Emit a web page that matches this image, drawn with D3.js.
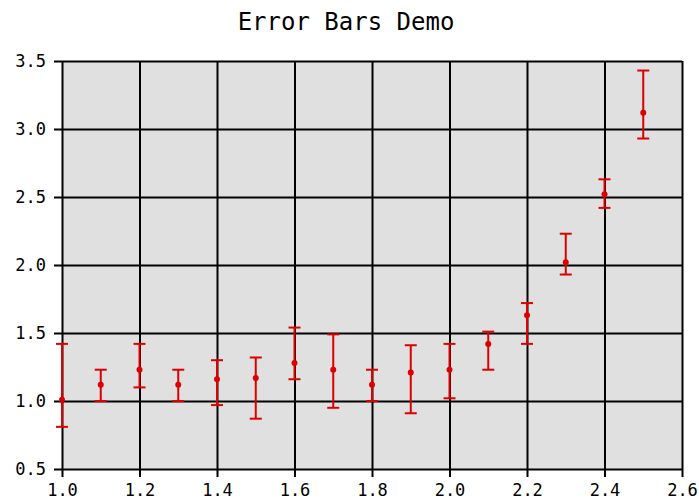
<!DOCTYPE html>
<html>
<head>
<meta charset="utf-8">
<script src="https://cdn.jsdelivr.net/npm/d3@7"></script>
<style>
  body { margin: 0; background: #fff; }
  text { font-family: "DejaVu Sans Mono", monospace; }
</style>
</head>
<body>
<script>
// data
var xs    = [1.0, 1.1, 1.2, 1.3, 1.4, 1.5, 1.6, 1.7, 1.8, 1.9, 2.0, 2.1, 2.2, 2.3, 2.4, 2.5];
var ys    = [1.01, 1.12, 1.23, 1.12, 1.16, 1.17, 1.28, 1.23, 1.12, 1.21, 1.23, 1.42, 1.63, 2.02, 2.52, 3.12];
var yHigh = [1.42, 1.23, 1.42, 1.23, 1.30, 1.32, 1.54, 1.49, 1.23, 1.41, 1.42, 1.51, 1.72, 2.23, 2.63, 3.43];
var yLow  = [0.81, 1.00, 1.10, 1.00, 0.97, 0.87, 1.16, 0.95, 1.00, 0.91, 1.02, 1.23, 1.42, 1.93, 2.42, 2.93];
var xTicks = [1.0, 1.2, 1.4, 1.6, 1.8, 2.0, 2.2, 2.4, 2.6];
var yTicks = [0.5, 1.0, 1.5, 2.0, 2.5, 3.0, 3.5];

var width = 699;
var height = 502;

var margin = {
    top: 61,
    bottom: 33,
    left: 62,
    right: 17,
};

var svg = d3.select("body")
    .append("svg")
    .attr("width", width)
    .attr("height", height);

var x = d3.scaleLinear().domain([1.0, 2.6]).range([margin.left, width - margin.right]);
var y = d3.scaleLinear().domain([0.5, 3.5]).range([height - margin.bottom, margin.top]);

// plot background
svg.append("rect")
    .attr("x", x(1.0))
    .attr("y", y(3.5))
    .attr("width", x(2.6) - x(1.0))
    .attr("height", y(0.5) - y(3.5))
    .attr("fill", "#e0e0e0");

// grid
svg.append("g")
    .attr("transform", "translate(0," + y(0.5) + ")")
    .call(d3.axisBottom(x).tickValues(xTicks).tickFormat(d3.format(".1f"))
        .tickSize(-(y(0.5) - y(3.5))).tickSizeOuter(0))
    .call(function(g) {
        g.select(".domain").remove();
        g.selectAll(".tick line").attr("stroke", "#000").attr("stroke-width", 2).attr("y1", 8);
        g.selectAll(".tick text").attr("y", 15).attr("font-size", "17px").attr("fill", "#000")
            .attr("font-family", "DejaVu Sans Mono, monospace");
    });

svg.append("g")
    .attr("transform", "translate(" + x(1.0) + ",0)")
    .call(d3.axisLeft(y).tickValues(yTicks).tickFormat(d3.format(".1f"))
        .tickSize(-(x(2.6) - x(1.0))).tickSizeOuter(0))
    .call(function(g) {
        g.select(".domain").remove();
        g.selectAll(".tick line").attr("stroke", "#000").attr("stroke-width", 2).attr("x1", -8);
        g.selectAll(".tick text").attr("x", -16).attr("dy", "0.35em").attr("font-size", "17px").attr("fill", "#000")
            .attr("font-family", "DejaVu Sans Mono, monospace");
    });

// error bars
var bars = svg.append("g")
    .selectAll("g")
    .data(xs)
    .enter().append("g")
    .attr("stroke", "#dd0000")
    .attr("stroke-width", 2);

bars.append("line")
    .attr("x1", function(d) { return x(d); })
    .attr("x2", function(d) { return x(d); })
    .attr("y1", function(d, i) { return y(yHigh[i]); })
    .attr("y2", function(d, i) { return y(yLow[i]); });

bars.append("line")
    .attr("x1", function(d) { return x(d) - 6; })
    .attr("x2", function(d) { return x(d) + 6; })
    .attr("y1", function(d, i) { return y(yHigh[i]); })
    .attr("y2", function(d, i) { return y(yHigh[i]); });

bars.append("line")
    .attr("x1", function(d) { return x(d) - 6; })
    .attr("x2", function(d) { return x(d) + 6; })
    .attr("y1", function(d, i) { return y(yLow[i]); })
    .attr("y2", function(d, i) { return y(yLow[i]); });

bars.append("circle")
    .attr("cx", function(d) { return x(d); })
    .attr("cy", function(d, i) { return y(ys[i]); })
    .attr("r", 3)
    .attr("stroke", "none")
    .attr("fill", "#dd0000");

// Heading
svg.append("text")
    .attr("x", 346)
    .attr("y", 30)
    .attr("text-anchor", "middle")
    .style("font-size", "24px")
    .text("Error Bars Demo");
</script>
</body>
</html>
